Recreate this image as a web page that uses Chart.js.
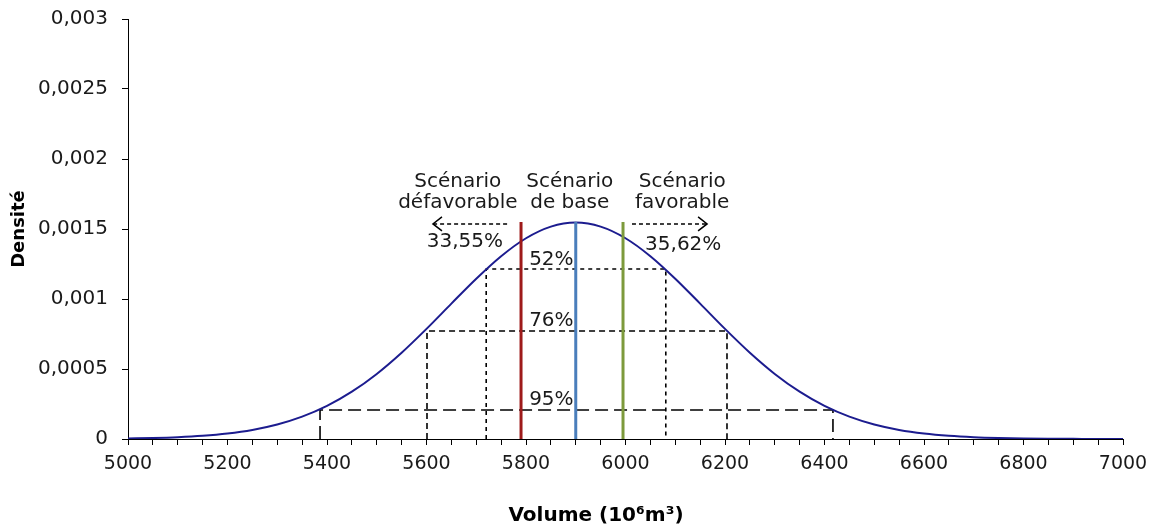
<!DOCTYPE html>
<html>
<head>
  <title>Densité</title>
  <script src="https://cdn.jsdelivr.net/npm/chart.js@4.4.1/dist/chart.umd.min.js"></script>
  <style>
    body { margin: 0; background: #fff; }
  </style>
</head>
<body>
  <canvas id="densityChart" width="1152" height="527"></canvas>
  <script>
    // density curve, every 50 (10^6 m3)
    var volumes = [5000, 5050, 5100, 5150, 5200, 5250, 5300, 5350, 5400, 5450,
                   5500, 5550, 5600, 5650, 5700, 5750, 5800, 5850, 5900, 5950,
                   6000, 6050, 6100, 6150, 6200, 6250, 6300, 6350, 6400, 6450,
                   6500, 6550, 6600, 6650, 6700, 6750, 6800, 6850, 6900, 6950, 7000];
    var densities = [0.0000035, 0.0000068, 0.0000126, 0.0000226, 0.000039, 0.0000647, 0.0001034, 0.0001594, 0.0002364, 0.0003378,
                     0.0004648, 0.0006161, 0.0007864, 0.0009669, 0.0011447, 0.0013056, 0.001434, 0.001517, 0.001546, 0.001517,
                     0.001434, 0.0013056, 0.0011447, 0.0009669, 0.0007864, 0.0006161, 0.0004648, 0.0003378, 0.0002364, 0.0001594,
                     0.0001034, 0.0000647, 0.000039, 0.0000226, 0.0000126, 0.0000068, 0.0000035, 0.000002, 0.000001, 0.0000005, 0.0000003];

    // scenario markers
    var scenarioVolumes = [5790, 5900, 5995];
    var scenarioTop = 0.00155;

    // confidence intervals
    var intervalLabels = ['52%', '76%', '95%'];
    var intervalLow = [5720, 5601, 5386];
    var intervalHigh = [6081, 6204, 6417];
    var intervalDensity = [0.001214, 0.000771, 0.000207];

    // tail probabilities
    var tailLabels = ['33,55%', '35,62%'];

    var yTicks = [0, 0.0005, 0.001, 0.0015, 0.002, 0.0025, 0.003];

    var FONT = "'DejaVu Sans', sans-serif";
    var TXT = '#1a1a1a';

    var scenarioColors = ['#9e1a1a', '#4a7ebb', '#7d9a3c'];
    var intervalDash = [[4, 4], [6, 4], [13, 6]];

    var datasets = [];
    scenarioVolumes.forEach(function (v, i) {
      datasets.push({
        data: [{ x: v, y: 0 }, { x: v, y: scenarioTop }],
        borderColor: scenarioColors[i],
        borderWidth: 3,
        pointRadius: 0
      });
    });
    datasets.push({
      data: volumes.map(function (v, i) { return { x: v, y: densities[i] }; }),
      borderColor: '#1c1c8f',
      borderWidth: 2,
      pointRadius: 0,
      cubicInterpolationMode: 'monotone'
    });
    intervalLabels.forEach(function (lab, i) {
      datasets.push({
        data: [
          { x: intervalLow[i], y: 0 },
          { x: intervalLow[i], y: intervalDensity[i] },
          { x: intervalHigh[i], y: intervalDensity[i] },
          { x: intervalHigh[i], y: 0 }
        ],
        borderColor: '#000',
        borderWidth: 1.6,
        borderDash: intervalDash[i],
        pointRadius: 0
      });
    });

    function fmt(v) {
      return String(Math.round(v * 10000) / 10000).replace('.', ',');
    }

    var annotations = {
      id: 'annotations',
      afterDatasetsDraw: function (chart) {
        var c = chart.ctx, xs = chart.scales.x, ys = chart.scales.y;
        function px(v) { return xs.getPixelForValue(v); }
        function py(v) { return ys.getPixelForValue(v); }
        c.save();
        c.fillStyle = TXT;
        c.font = '20px ' + FONT;
        c.textAlign = 'center';
        c.textBaseline = 'middle';

        c.fillText('Scénario', px(5663), 182);
        c.fillText('défavorable', px(5663), 203);
        c.fillText('Scénario', px(5888), 182);
        c.fillText('de base', px(5888), 203);
        c.fillText('Scénario', px(6114), 182);
        c.fillText('favorable', px(6114), 203);

        c.fillText(tailLabels[0], px(5677), py(0.001407));
        c.fillText(tailLabels[1], px(6116), py(0.001386));

        var labY = [0.001282, 0.000846, 0.000282];
        intervalLabels.forEach(function (lab, i) {
          c.fillText(lab, px(5851), py(labY[i]));
        });

        // dashed arrows
        c.strokeStyle = '#000';
        c.lineWidth = 1.5;
        function arrow(from, to, y) {
          var x1 = px(from), x2 = px(to), dir = x2 > x1 ? 1 : -1;
          c.setLineDash([4, 3]);
          c.beginPath();
          c.moveTo(x1, y);
          c.lineTo(x2, y);
          c.stroke();
          c.setLineDash([]);
          c.beginPath();
          c.moveTo(x2 - dir * 9, y - 7);
          c.lineTo(x2, y);
          c.lineTo(x2 - dir * 9, y + 7);
          c.stroke();
        }
        arrow(5762, 5613, py(0.001536));
        arrow(6013, 6164, py(0.001536));

        // x axis title
        c.font = 'bold 20px ' + FONT;
        c.fillStyle = '#000';
        c.fillText('Volume (10⁶m³)', 596, 516);
        c.restore();
      }
    };

    new Chart(document.getElementById('densityChart'), {
      type: 'line',
      data: { datasets: datasets },
      plugins: [annotations],
      options: {
        responsive: false,
        animation: false,
        layout: { padding: { top: 19, right: 29, left: 0, bottom: 0 } },
        plugins: { legend: { display: false }, tooltip: { enabled: false } },
        scales: {
          x: {
            type: 'linear',
            min: 5000,
            max: 7000,
            afterFit: function (s) { s.height = 88; s.paddingLeft = 0; s.paddingRight = 0; },
            ticks: {
              stepSize: 50,
              autoSkip: false,
              maxRotation: 0,
              padding: 8,
              color: TXT,
              font: { family: FONT, size: 19 },
              callback: function (v) { return v % 200 === 0 ? String(v) : ''; }
            },
            grid: { drawOnChartArea: false, tickLength: 6, color: '#000' },
            border: { color: '#000', width: 1 }
          },
          y: {
            type: 'linear',
            min: 0,
            max: 0.003,
            afterFit: function (s) { s.width = 128; s.paddingTop = 0; s.paddingBottom = 0; },
            afterBuildTicks: function (s) {
              s.ticks = yTicks.map(function (v) { return { value: v }; });
            },
            ticks: {
              padding: 14,
              color: TXT,
              font: { family: FONT, size: 20 },
              callback: fmt
            },
            grid: { drawOnChartArea: false, tickLength: 6, color: '#000' },
            border: { color: '#000', width: 1 },
            title: {
              display: true,
              text: 'Densité',
              color: '#000',
              font: { family: FONT, size: 18, weight: 'bold' },
              padding: { top: 9, bottom: 0 }
            }
          }
        }
      }
    });
  </script>
</body>
</html>
